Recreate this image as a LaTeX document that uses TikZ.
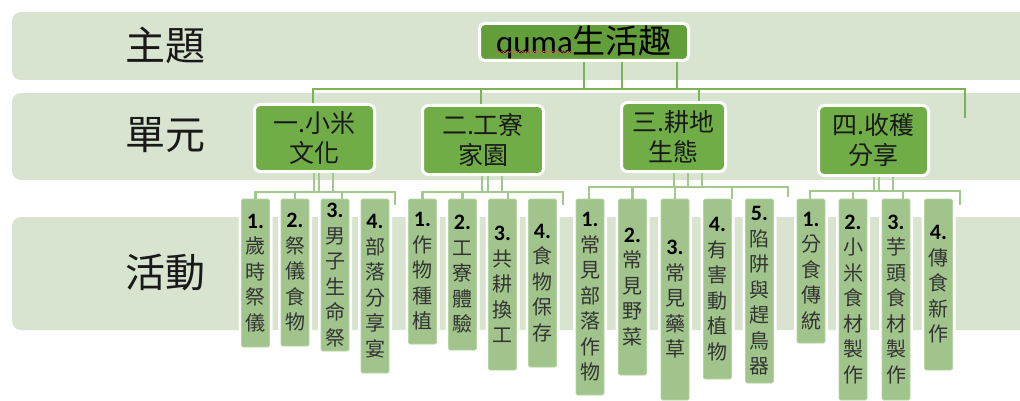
\documentclass[tikz,border=0pt]{standalone}
\usepackage{fontspec}
\setmainfont{Carlito}
\newfontfamily\cjk{Noto Sans CJK TC}
\usetikzlibrary{decorations.pathmorphing}
\definecolor{bandcol}{HTML}{D8E4CF}
\definecolor{titlegreen}{HTML}{629E3A}
\definecolor{unitgreen}{HTML}{70AD47}
\definecolor{actgreen}{HTML}{A0C48B}
\definecolor{actborder}{HTML}{B7D5A3}
\definecolor{linegreen}{HTML}{7BB356}
\definecolor{sublinegreen}{HTML}{A2C98C}
\begin{document}
\begin{tikzpicture}[x=1pt,y=-1pt,
  bandbox/.style={fill=bandcol, rounded corners=9pt},
  lbl/.style={font=\cjk\fontsize{40}{40}\selectfont, text=black!90, inner sep=0pt},
  titlebox/.style={fill=titlegreen, draw=white, line width=3pt, rounded corners=5pt, inner sep=0pt, font=\fontsize{33}{33}\selectfont},
  unitbox/.style={fill=unitgreen, draw=white, line width=3pt, rounded corners=6pt, inner sep=0pt, align=center, text=black!90, font=\cjk\fontsize{25}{30}\selectfont},
  act/.style={fill=actgreen, draw=actborder, line width=0.8pt, rounded corners=1.5pt, preaction={draw=white, line width=6pt}, minimum width=28pt, inner sep=0pt, align=center, text=black!80, font=\cjk\fontsize{20}{25.5}\selectfont},
  topline/.style={draw=linegreen, line width=2.5pt},
  subline/.style={draw=sublinegreen, line width=2.5pt},
]
\newcommand\nm[1]{{\rmfamily\bfseries\color{black}\fontsize{22}{25.5}\selectfont #1}}
\useasboundingbox (0,0) rectangle (1020,401);
\clip (0,0) rectangle (1020,401);

% bands
\path[bandbox] (12,12) rectangle (1040,80);
\path[bandbox] (12,93) rectangle (1040,180);
\path[bandbox] (12,217) rectangle (1040,330);

% row labels
\node[lbl] (l1) at (165,45) {主題};
\node[lbl] (l2) at (165,135) {單元};
\node[lbl] (l3) at (165,272) {活動};

% title
\node[titlebox, minimum width=209pt, minimum height=37pt] (t) at (584,42) {quma{\cjk 生活趣}};
\coordinate (spellA) at (495,52);
\coordinate (spellB) at (572,52);
\draw[red!70, line width=0.5pt, decorate, decoration={snake, amplitude=0.6pt, segment length=3pt}] (spellA) -- (spellB);

% units
\node[unitbox, minimum width=120pt, minimum height=67pt] (u1) at (314.5,138) {一.小米\\文化};
\node[unitbox, minimum width=121pt, minimum height=69pt] (u2) at (483,140) {二.工寮\\家園};
\node[unitbox, minimum width=104pt, minimum height=69pt] (u3) at (673.5,137) {三.耕地\\生態};
\node[unitbox, minimum width=110pt, minimum height=70pt] (u4) at (873.5,140.5) {四.收穫\\分享};

% activities
\node[act, minimum height=148pt] (a11) at (255.5,273) {\nm{1.}\\歲\\時\\祭\\儀};
\node[act, minimum height=147pt] (a12) at (295,272.5) {\nm{2.}\\祭\\儀\\食\\物};
\node[act, minimum height=152pt] (a13) at (335,275) {\nm{3.}\\男\\子\\生\\命\\祭};
\node[act, minimum height=174pt] (a14) at (375,286) {\nm{4.}\\部\\落\\分\\享\\宴};
\node[act, minimum height=145pt] (a21) at (422.5,271.5) {\nm{1.}\\作\\物\\種\\植};
\node[act, minimum height=151pt] (a22) at (462.5,274.5) {\nm{2.}\\工\\寮\\體\\驗};
\node[act, minimum height=171pt] (a23) at (502.5,284.5) {\nm{3.}\\共\\耕\\換\\工};
\node[act, minimum height=168pt] (a24) at (542.5,283) {\nm{4.}\\食\\物\\保\\存};
\node[act, minimum height=196pt] (a31) at (590,297) {\nm{1.}\\常\\見\\部\\落\\作\\物};
\node[act, minimum height=176pt] (a32) at (632.5,287) {\nm{2.}\\常\\見\\野\\菜};
\node[act, minimum height=201pt] (a33) at (675,299.5) {\nm{3.}\\常\\見\\藥\\草};
\node[act, minimum height=180pt] (a34) at (717.5,289) {\nm{4.}\\有\\害\\動\\植\\物};
\node[act, minimum height=184pt] (a35) at (759.5,291) {\nm{5.}\\陷\\阱\\與\\趕\\鳥\\器};
\node[act, minimum height=144pt] (a41) at (811,271) {\nm{1.}\\分\\食\\傳\\統};
\node[act, minimum height=201pt] (a42) at (853,299.5) {\nm{2.}\\小\\米\\食\\材\\製\\作};
\node[act, minimum height=201pt] (a43) at (896,299.5) {\nm{3.}\\芋\\頭\\食\\材\\製\\作};
\node[act, minimum height=171pt] (a44) at (938.5,284.5) {\nm{4.}\\傳\\食\\新\\作};

% title connectors
\draw[topline] (t.south) -- +(0,27);
\draw[topline] ([xshift=38pt]t.south) -- +(0,27);
\draw[topline] ([xshift=93pt]t.south) -- +(0,27);
\coordinate (busend) at (965,89);
\coordinate (busdangle) at (965,118);
\draw[topline] ([xshift=-1.5pt]u1.north) |- (busend) -- (busdangle);
\draw[topline] ([xshift=-2pt]u2.north) -- +(0,-15);
\draw[topline] ([xshift=25.5pt]u3.north) -- +(0,-12);

% unit 1 connectors
\draw[subline] ([xshift=-0.5pt]u1.south) -- +(0,19);
\draw[subline] ([xshift=4.5pt]u1.south) -- +(0,19);
\draw[subline] ([xshift=18.5pt]u1.south) -- +(0,19);
\coordinate (b1e) at (395,192);
\coordinate (b1d) at (395,205);
\draw[subline] (a11.north) |- (b1e) -- (b1d);
\draw[subline] (a12.north) -- +(0,-7);
\draw[subline] ([xshift=7pt]a13.north) -- +(0,-7);

% unit 2 connectors
\draw[subline] ([xshift=-1pt]u2.south) -- +(0,16);
\draw[subline] ([xshift=5pt]u2.south) -- +(0,16);
\draw[subline] ([xshift=19pt]u2.south) -- +(0,16);
\coordinate (b2e) at (563,192);
\coordinate (b2d) at (563,205);
\draw[subline] (a21.north) |- (b2e) -- (b2d);
\draw[subline] (a22.north) -- +(0,-7);
\draw[subline] ([xshift=5.5pt]a23.north) -- +(0,-7);

% unit 3 connectors
\draw[subline] ([xshift=0.5pt]u3.south) -- +(0,14);
\draw[subline] ([xshift=14.5pt]u3.south) -- +(0,14);
\draw[subline] ([xshift=28.5pt]u3.south) -- +(0,14);
\coordinate (b3e) at (788,187);
\coordinate (b3d) at (788,197);
\draw[subline] ([xshift=-1pt]a31.north) |- (b3e) -- (b3d);
\draw[subline] (a32.north) -- +(0,-12);
\draw[subline] (a33.north) -- +(0,-12);
\draw[subline] ([xshift=14.5pt]a34.north) -- +(0,-12);

% unit 4 connectors
\draw[subline] ([xshift=0.5pt]u4.south) -- +(0,14);
\draw[subline] ([xshift=5.5pt]u4.south) -- +(0,14);
\draw[subline] ([xshift=19.5pt]u4.south) -- +(0,14);
\coordinate (b4e) at (960,191);
\coordinate (b4d) at (960,205);
\draw[subline] ([xshift=-1pt]a41.north) |- (b4e) -- (b4d);
\draw[subline] (a42.north) -- +(0,-8);
\draw[subline] ([xshift=7pt]a43.north) -- +(0,-8);
\end{tikzpicture}
\end{document}
